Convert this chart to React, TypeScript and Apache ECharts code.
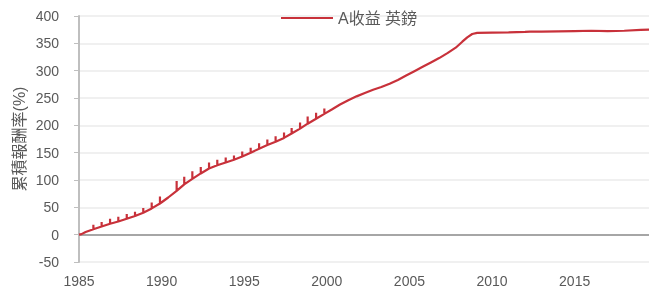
import React, { useEffect, useRef } from "react";
import * as echarts from "echarts";

const seriesName = "A收益 英鎊";
const yAxisTitle = "累積報酬率(%)";

// Trend of cumulative return (year, %)
const trendYears = [
  1985.0, 1985.15, 1985.4, 1985.87, 1986.37, 1986.88, 1987.38, 1987.89, 1988.39, 1988.89,
  1989.4, 1989.9, 1990.4, 1990.91, 1991.37, 1991.86, 1992.37, 1992.87, 1993.37, 1993.88,
  1994.38, 1994.88, 1995.39, 1995.9, 1996.4, 1996.9, 1997.41, 1997.87, 1998.38, 1998.84,
  1999.35, 1999.85, 2000.3, 2000.8, 2001.3, 2001.8, 2002.3, 2002.8, 2003.3, 2003.8,
  2004.3, 2004.8, 2005.3, 2005.8, 2006.3, 2006.8, 2007.3, 2007.8, 2008.2, 2008.5,
  2008.8, 2009.1, 2010.0, 2011.0, 2012.0, 2012.3, 2013.0, 2014.0, 2015.0, 2016.0,
  2017.0, 2018.0, 2019.0, 2019.5,
];
const trendValues = [
  0, 1, 5, 10, 15, 20, 24, 29, 34, 40,
  48, 57, 68, 80, 92, 102, 112, 121, 127, 132,
  137, 143, 150, 157, 164, 170, 177, 185, 194, 203,
  212, 221, 229, 238, 246, 253, 259, 265, 270, 276,
  283, 291, 299, 307, 315, 323, 332, 342, 353, 361,
  367, 369, 369.5, 370, 371, 371.5, 371.5, 372, 372.5, 373,
  372.5, 373, 374.5, 375,
];

// Short-lived spikes (year, peak %)
const spikeYears = [
  1985.87, 1986.37, 1986.88, 1987.38, 1987.89, 1988.39, 1988.89, 1989.4, 1989.9, 1990.91,
  1991.37, 1991.86, 1992.37, 1992.87, 1993.37, 1993.88, 1994.38, 1994.88, 1995.39, 1995.9,
  1996.4, 1996.9, 1997.41, 1997.87, 1998.38, 1998.84, 1999.35, 1999.85, 2012.3,
];
const spikePeaks = [
  18, 23, 29, 33, 38, 42, 49, 59, 70, 98,
  106, 116, 124, 132, 137, 141, 145, 152, 159, 167,
  174, 180, 187, 195, 205, 216, 223, 231, 373,
];

const yMin = -50;
const yMax = 400;
const yStep = 50;
const xMin = 1985;
const xMax = 2019.5;
const xStep = 5;

function buildData(): [number, number][] {
  const out: [number, number][] = [];
  trendYears.forEach((t, i) => {
    const b = trendValues[i];
    const si = spikeYears.indexOf(t);
    out.push([t, b]);
    if (si >= 0) {
      out.push([t, spikePeaks[si]]);
      out.push([t, b]);
    }
  });
  return out;
}

const FONT = "'Liberation Sans', 'Noto Sans CJK TC', sans-serif";
const TEXT = "#595959";
const RED = "#c8313a";

export default function App() {
  const ref = useRef<HTMLDivElement>(null);
  useEffect(() => {
    if (!ref.current) return;
    const chart = echarts.init(ref.current, undefined, { renderer: "svg" });
    chart.setOption({
      animation: false,
      textStyle: { fontFamily: FONT },
      legend: {
        left: 276,
        top: 5,
        itemWidth: 52,
        itemHeight: 2,
        itemGap: 5,
        icon: "rect",
        itemStyle: { color: RED },
        textStyle: { fontSize: 16, color: TEXT, fontFamily: FONT },
        data: [seriesName],
      },
      grid: { left: 79, right: 4, top: 16, bottom: 25, containLabel: false },
      xAxis: {
        type: "value",
        min: xMin,
        max: xMax,
        interval: xStep,
        axisLine: { show: false },
        axisTick: { show: false },
        splitLine: { show: false },
        axisLabel: {
          color: TEXT,
          fontSize: 14,
          fontFamily: FONT,
          margin: 12,
          formatter: (v: number) => (v % xStep === 0 ? String(v) : ""),
        },
      },
      yAxis: {
        type: "value",
        min: yMin,
        max: yMax,
        interval: yStep,
        name: yAxisTitle,
        nameLocation: "middle",
        nameGap: 52,
        nameMoveOverlap: false,
        nameTextStyle: { color: TEXT, fontSize: 16, fontFamily: FONT },
        axisLine: { show: true, lineStyle: { color: "#bfbfbf", width: 2 } },
        axisTick: { show: true, length: 5, lineStyle: { color: "#bfbfbf", width: 1 } },
        splitLine: { show: true, lineStyle: { color: "#f0f0f0", width: 2 } },
        axisLabel: { color: TEXT, fontSize: 14, fontFamily: FONT, margin: 20 },
      },
      series: [
        {
          name: seriesName,
          type: "line",
          data: buildData(),
          symbol: "none",
          showSymbol: false,
          lineStyle: { color: RED, width: 2.2 },
          itemStyle: { color: RED },
          z: 3,
          markLine: {
            silent: true,
            symbol: "none",
            label: { show: false },
            lineStyle: { color: "#a6a6a6", width: 2, type: "solid" },
            data: [{ yAxis: 0 }],
            z: 2,
          },
        },
      ],
    });
    return () => chart.dispose();
  }, []);
  return (
    <div
      ref={ref}
      style={{ position: "fixed", left: 0, top: 0, width: 653, height: 288 }}
    />
  );
}
